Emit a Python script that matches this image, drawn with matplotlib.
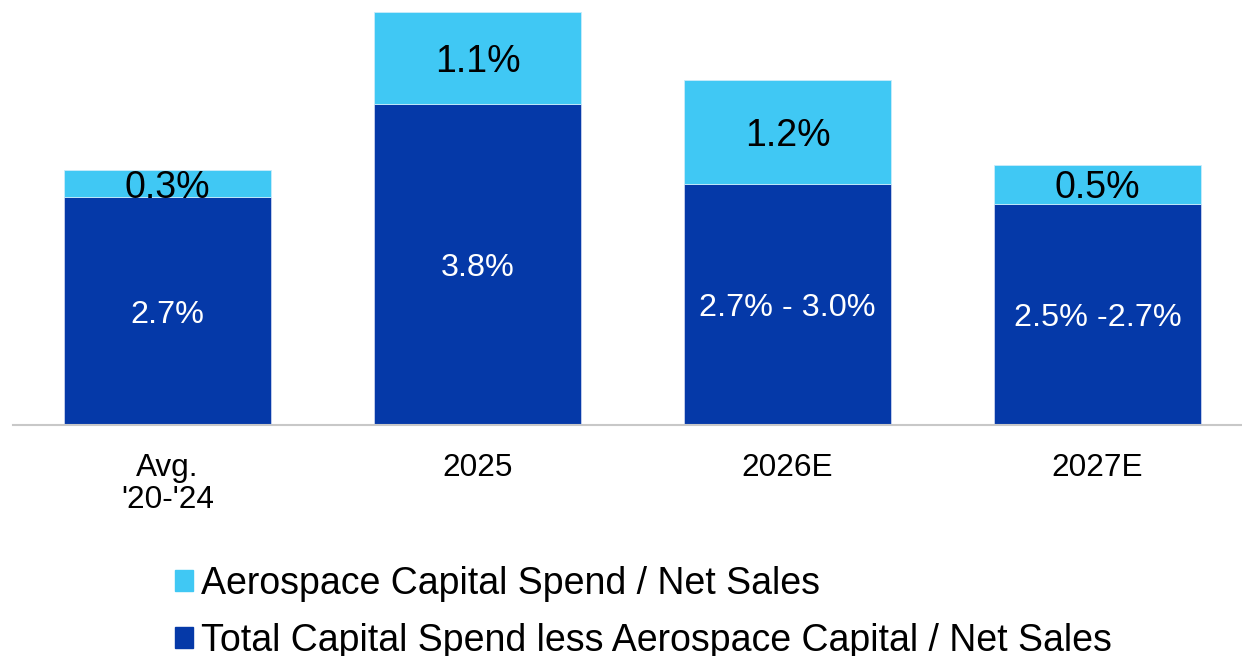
import matplotlib.pyplot as plt
from matplotlib.patches import Patch

plt.rcParams["font.family"] = ["Liberation Sans", "DejaVu Sans"]

# ── Data ─────────────────────────────────────────────────────────
categories = ["Avg.\n'20-'24", "2025", "2026E", "2027E"]
total_less_aero = [2.7, 3.8, 2.85, 2.62]
aero = [0.32, 1.09, 1.24, 0.46]
total_labels = ["2.7%", "3.8%", "2.7% - 3.0%", "2.5% -2.7%"]
aero_labels = ["0.3%", "1.1%", "1.2%", "0.5%"]

DARK = "#0539A8"
LIGHT = "#40C8F4"

fig = plt.figure(figsize=(12.42, 6.56), dpi=100)
ax = fig.add_axes([13 / 1242, 231 / 656, 1 - 13 / 1242, 425 / 656])

x = range(len(categories))
w = 0.668
ax.bar(x, total_less_aero, width=w, color=DARK, edgecolor="#c9d3ee", linewidth=0.6)
ax.bar(x, aero, width=w, bottom=total_less_aero, color=LIGHT,
       edgecolor="#c9ecfb", linewidth=0.6)

for i, (t, a) in enumerate(zip(total_less_aero, aero)):
    ax.text(i, t / 2, total_labels[i], ha="center", va="center_baseline",
            color="white", fontsize=23.3)
    ax.text(i, t + a / 2, aero_labels[i], ha="center", va="center_baseline",
            color="black", fontsize=27)

ax.set_xlim(-0.498, 3.466)
ax.set_ylim(0, 425 / 84.4)
ax.set_xticks(list(x))
ax.set_xticklabels(categories, fontsize=22.7, linespacing=1.1)
ax.tick_params(axis="x", length=0, pad=20)
ax.set_yticks([])
for s in ["top", "left", "right"]:
    ax.spines[s].set_visible(False)
ax.spines["bottom"].set_color("#c8c8c8")
ax.spines["bottom"].set_linewidth(1.5)

handles = [Patch(color=LIGHT, label="Aerospace Capital Spend / Net Sales"),
           Patch(color=DARK, label="Total Capital Spend less Aerospace Capital / Net Sales")]
fig.legend(handles=handles, loc="upper left", bbox_to_anchor=(175 / 1242, 1 - 566 / 656),
           frameon=False, fontsize=27, handlelength=0.48, handleheight=0.48,
           handletextpad=0.22, labelspacing=0.55, borderpad=0, borderaxespad=0)

fig.savefig("out.png", dpi=100)
